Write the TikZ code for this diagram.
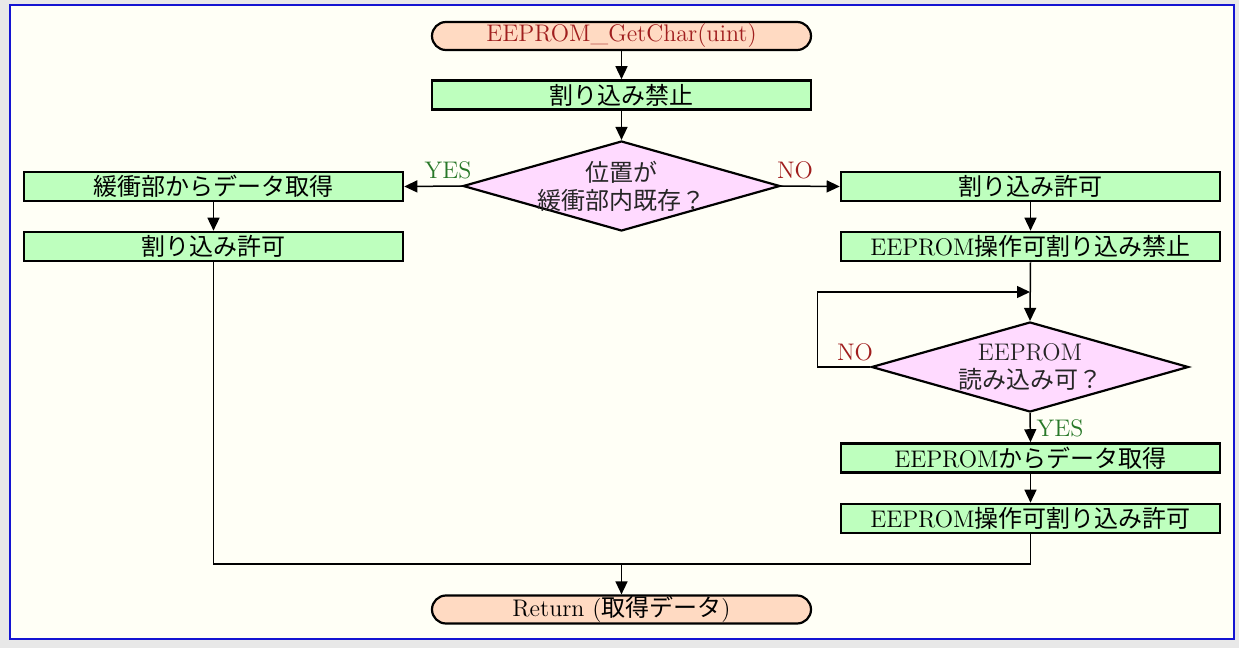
\documentclass[tikz,border=0pt]{standalone}
\usepackage{fontspec}
\newfontfamily\cjk{Noto Sans CJK JP}
\usetikzlibrary{arrows.meta,shapes.geometric}

\definecolor{termfill}{RGB}{255,218,194}
\definecolor{procfill}{RGB}{190,255,190}
\definecolor{decfill}{RGB}{255,218,255}
\definecolor{yesgreen}{RGB}{40,120,40}
\definecolor{nored}{RGB}{160,30,30}
\definecolor{paper}{RGB}{255,255,246}
\definecolor{frameblue}{RGB}{20,20,210}
\definecolor{outergray}{RGB}{232,232,232}

\tikzset{
  term/.style={draw, line width=1.1pt, fill=termfill, rounded corners=7pt,
    minimum width=189.5pt, minimum height=14pt, inner sep=0pt},
  proc/.style={draw, line width=1.3pt, fill=procfill,
    minimum width=189.5pt, minimum height=14.5pt, inner sep=0pt},
  dec/.style={draw, line width=1.1pt, fill=decfill, diamond,
    minimum width=158.5pt, minimum height=45pt, inner sep=0pt},
  dectext/.style={align=center, inner sep=0pt, text=black!85},
  arr/.style={-{Triangle[length=6.5pt,width=6pt]}, line width=0.75pt},
  line/.style={line width=0.75pt},
  yes/.style={text=yesgreen, inner sep=0pt},
  no/.style={text=nored, inner sep=0pt}
}

\begin{document}
\begin{tikzpicture}[x=0.5pt,y=0.5pt,yscale=-1,xscale=1,
  font=\fontsize{12}{14}\selectfont]
	% page and frame
	\fill[outergray] (0,0) rectangle (1239,648);
	\draw[frameblue, line width=1pt, fill=paper] (9.5,4.5) rectangle (1233.5,639);
	\useasboundingbox (0,0) rectangle (1239,648);

	% centre column
	\node[term, text=nored] (start) at (621.5,36) {EEPROM\_GetChar(uint)};
	\node[proc] (off) at (621.5,95) {{\cjk 割り込み禁止}};
	\node[dec] (inbuf) at (621.5,186) {};
	\node[dectext] at (inbuf.center) {{\cjk 位置が}\\{\cjk 緩衝部内既存？}};
	\node[term] (ret) at (621.5,609.5) {Return ({\cjk 取得データ})};

	% left column
	\node[proc] (bufget) at (213.5,186.5) {{\cjk 緩衝部からデータ取得}};
	\node[proc] (onL) at (213.5,246.5) {{\cjk 割り込み許可}};

	% right column
	\node[proc] (onR) at (1030.5,186.5) {{\cjk 割り込み許可}};
	\node[proc] (eeoff) at (1030.5,246.5) {EEPROM{\cjk 操作可割り込み禁止}};
	\node[dec] (ready) at (1030,367) {};
	\node[dectext] at (ready.center) {EEPROM\\{\cjk 読み込み可？}};
	\node[proc] (eeget) at (1030.5,458) {EEPROM{\cjk からデータ取得}};
	\node[proc] (eeon) at (1030.5,518.5) {EEPROM{\cjk 操作可割り込み許可}};

	% branch labels
	\node[yes] (yes1) at (448,170) {YES};
	\node[no] (no1) at (795,170) {NO};
	\node[no] (no2) at (855,352) {NO};
	\node[yes] (yes2) at (1060,428) {YES};

	% joints
	\coordinate (loop) at (1030,292);
	\coordinate (merge) at (621.5,564);

	% connectors
	\draw[arr] (start) -- (off);
	\draw[arr] (off) -- (inbuf.north);
	\draw[arr] (inbuf.west) -- (bufget.east);
	\draw[arr] (inbuf.east) -- (onR.west);
	\draw[arr] (bufget) -- (onL);
	\draw[arr] (onR) -- (eeoff);
	\draw[arr] (eeoff.south) -- (ready.north);
	\draw[arr] (ready.west) -- ++(-53,0) |- (loop);
	\draw[arr] (ready.south) -- (eeget.north);
	\draw[arr] (eeget) -- (eeon);
	\draw[line] (onL.south) |- (merge);
	\draw[line] (eeon.south) |- (merge);
	\draw[arr] (merge) -- (ret.north);
\end{tikzpicture}
\end{document}
